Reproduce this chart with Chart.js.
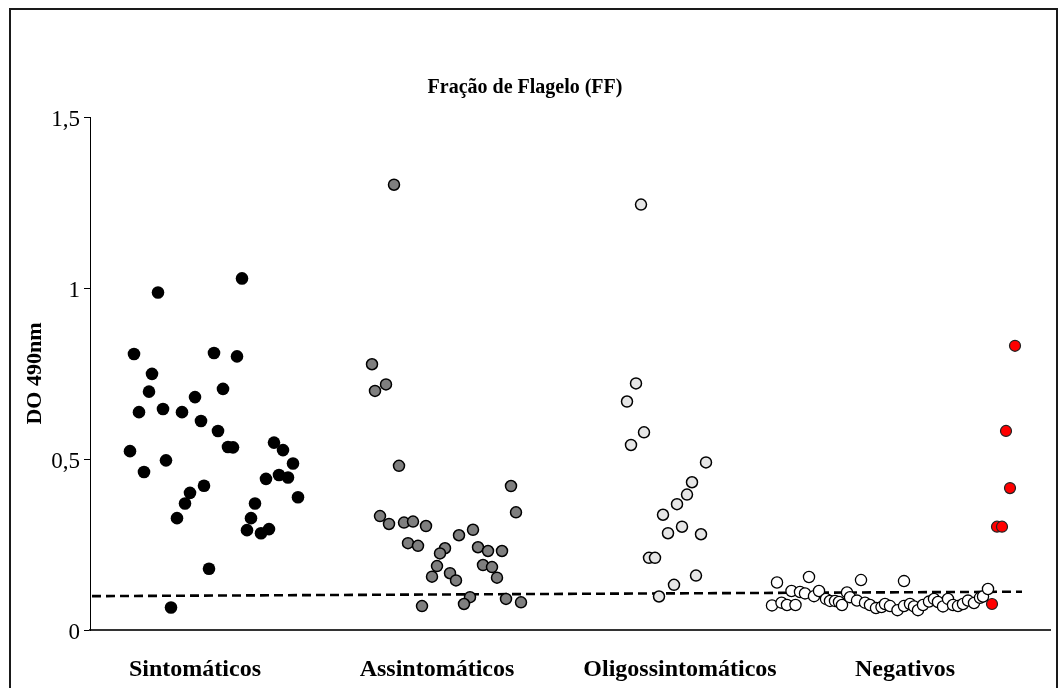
<!DOCTYPE html>
<html>
<head>
<meta charset="utf-8">
<script src="https://cdn.jsdelivr.net/npm/chart.js@4.4.1/dist/chart.umd.min.js"></script>
<style>
  html, body { margin: 0; padding: 0; background: #fff; }
  #wrap { position: relative; width: 1060px; height: 688px; overflow: hidden; }
  #frame { position: absolute; left: 9px; top: 8px; width: 1045px; height: 700px; border: 2px solid #1a1a1a; pointer-events: none; }
  canvas { position: absolute; left: 0; top: 0; }
</style>
</head>
<body>
<div id="wrap">
  <canvas id="myChart" width="1060" height="688"></canvas>
  <div id="frame"></div>
</div>
<script>
// group labels and where they sit on the x axis (jitter units)
var categories = ["Sintomáticos", "Assintomáticos", "Oligossintomáticos", "Negativos"];
var categoryPos = [1.05, 3.47, 5.90, 8.15];
var yTicks = [0, 0.5, 1, 1.5];

// Sintomáticos
var sintX = [1.52, 0.68, 0.44, 1.24, 1.47, 0.62, 0.59, 1.33, 1.05, 0.49, 0.73, 0.92, 1.11, 1.28, 1.38, 1.43, 1.84, 1.93, 0.40,
             0.76, 0.54, 2.03, 1.76, 1.89, 1.98, 1.14, 1.00, 0.95, 2.08, 1.65, 0.87, 1.61, 1.57, 1.71, 1.79, 1.19, 0.81];
var sintY = [1.028, 0.987, 0.807, 0.810, 0.800, 0.749, 0.697, 0.705, 0.681, 0.637, 0.646, 0.637, 0.611, 0.582, 0.535, 0.534, 0.548, 0.526, 0.523,
             0.496, 0.462, 0.487, 0.442, 0.453, 0.446, 0.422, 0.401, 0.370, 0.388, 0.370, 0.327, 0.327, 0.292, 0.283, 0.295, 0.179, 0.066];

// Assintomáticos
var assX = [3.04, 2.82, 2.96, 2.85, 3.09, 4.21, 4.26, 2.90, 2.99, 3.14, 3.23, 3.36, 3.83, 3.69, 3.18, 3.28, 3.88,
            3.98, 4.12, 3.55, 3.50, 3.47, 3.93, 4.02, 3.42, 3.60, 3.66, 4.07, 3.80, 3.74, 4.16, 4.31, 3.32];
var assY = [1.302, 0.777, 0.718, 0.699, 0.480, 0.421, 0.344, 0.333, 0.310, 0.314, 0.317, 0.304, 0.293, 0.277, 0.254, 0.246, 0.242,
            0.231, 0.231, 0.239, 0.224, 0.187, 0.190, 0.184, 0.156, 0.166, 0.145, 0.153, 0.096, 0.076, 0.091, 0.081, 0.070];

// Oligossintomáticos
var oligoX = [5.51, 5.46, 5.37, 5.54, 5.41, 6.16, 6.02, 5.97, 5.87, 5.73, 5.92, 5.78, 6.11, 5.59, 5.65, 6.06, 5.84, 5.69];
var oligoY = [1.244, 0.721, 0.668, 0.578, 0.541, 0.490, 0.432, 0.396, 0.368, 0.337, 0.302, 0.283, 0.280, 0.211, 0.211, 0.159, 0.132, 0.098];

// Negativos
var negX = [6.82, 6.87, 6.915, 6.97, 7.015, 7.055, 7.10, 7.15, 7.19, 7.24, 7.29, 7.36, 7.40, 7.45, 7.49, 7.52, 7.57, 7.60, 7.67, 7.71, 7.75, 7.80, 7.86,
            7.915, 7.95, 8.00, 8.075, 8.14, 8.14, 8.20, 8.24, 8.28, 8.33, 8.39, 8.44, 8.48, 8.53, 8.58, 8.63, 8.68, 8.73, 8.78, 8.84, 8.90, 8.93, 8.98];
var negY = [0.072, 0.139, 0.080, 0.073, 0.114, 0.073, 0.111, 0.107, 0.155, 0.099, 0.114, 0.091, 0.085, 0.085, 0.082, 0.073, 0.110, 0.096, 0.086, 0.146, 0.080, 0.073, 0.064,
            0.067, 0.076, 0.070, 0.058, 0.143, 0.070, 0.076, 0.069, 0.058, 0.073, 0.083, 0.091, 0.082, 0.069, 0.091, 0.073, 0.070, 0.076, 0.086, 0.079, 0.094, 0.098, 0.120];

// Negativos shown in red
var redX = [9.25, 9.16, 9.20, 9.07, 9.12, 9.02];
var redY = [0.831, 0.582, 0.415, 0.302, 0.302, 0.076];

// cut-off line
var cutX = [0.02, 9.32];
var cutY = [0.099, 0.112];

function pts(xs, ys) {
    return xs.map(function (x, i) { return { x: x, y: ys[i] }; });
}

Chart.defaults.font.family = "'Liberation Serif', 'Times New Roman', serif";
Chart.defaults.color = "#000";

new Chart("myChart", {
    type: "scatter",
    data: {
        datasets: [
            {
                type: "line",
                data: pts(cutX, cutY),
                borderColor: "#000",
                borderWidth: 2.6,
                borderDash: [9, 5],
                pointRadius: 0,
                fill: false,
                order: 10
            },
            { data: pts(sintX, sintY), backgroundColor: "#000", borderColor: "#000", borderWidth: 0, pointRadius: 6.3 },
            { data: pts(assX, assY), backgroundColor: "#7f7f7f", borderColor: "#000", borderWidth: 1.5, pointRadius: 5.5 },
            { data: pts(oligoX, oligoY), backgroundColor: "#e6e6e6", borderColor: "#000", borderWidth: 1.5, pointRadius: 5.5 },
            { data: pts(negX, negY), backgroundColor: "#fff", borderColor: "#000", borderWidth: 1.3, pointRadius: 5.6 },
            { data: pts(redX, redY), backgroundColor: "#ff0000", borderColor: "#222", borderWidth: 1.2, pointRadius: 5.5 }
        ]
    },
    options: {
        responsive: false,
        animation: false,
        devicePixelRatio: 1,
        layout: { padding: { left: 0, right: 10, top: 0, bottom: 0 } },
        plugins: {
            legend: { display: false },
            tooltip: { enabled: false },
            title: {
                display: true,
                text: "Fração de Flagelo (FF)",
                font: { size: 20, weight: "bold" },
                padding: { top: 76, bottom: 17 }
            }
        },
        scales: {
            x: {
                type: "linear",
                min: 0,
                max: 9.6,
                afterBuildTicks: function (scale) {
                    scale.ticks = categoryPos.map(function (v) { return { value: v }; });
                },
                afterFit: function (scale) { scale.height = 58; },
                grid: { display: false, drawTicks: false },
                border: { display: true, color: "#333", width: 2 },
                ticks: {
                    autoSkip: false,
                    maxRotation: 0,
                    padding: 25,
                    font: { size: 24, weight: "bold" },
                    callback: function (value, index) { return categories[index]; }
                }
            },
            y: {
                min: 0,
                max: 1.5,
                afterBuildTicks: function (scale) {
                    scale.ticks = yTicks.map(function (v) { return { value: v }; });
                },
                afterFit: function (scale) { scale.width = 90; },
                grid: { drawOnChartArea: false, drawTicks: true, tickLength: 6, color: "#000", lineWidth: 1 },
                border: { display: true, color: "#000", width: 1 },
                ticks: {
                    padding: 4,
                    labelOffset: 3,
                    font: { size: 23 },
                    callback: function (value) { return String(value).replace(".", ","); }
                },
                title: {
                    display: true,
                    text: "DO 490nm",
                    font: { size: 22, weight: "bold" },
                    padding: { top: 22, bottom: 0 }
                }
            }
        }
    }
});
</script>
</body>
</html>
